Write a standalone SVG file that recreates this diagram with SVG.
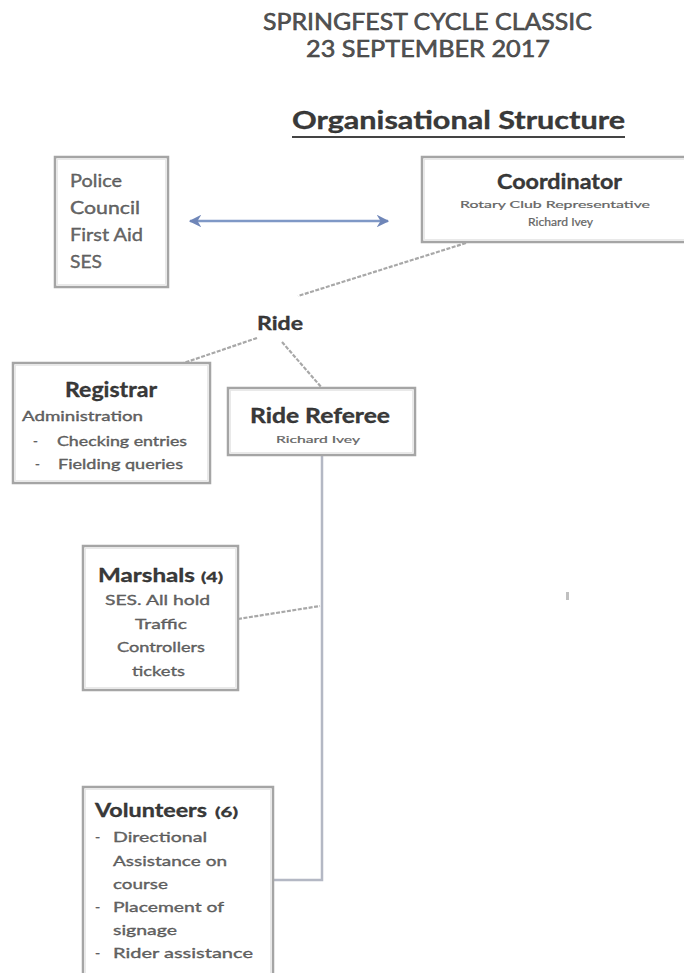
<svg xmlns="http://www.w3.org/2000/svg" width="684" height="973" viewBox="0 0 684 973">
<defs>
<style>
text{font-family:Lato,"Liberation Sans",sans-serif}
.t1{font-size:23px;fill:#555;stroke:#333;stroke-width:0.5}
.h{font-size:20px;font-weight:bold;fill:#3a3a3a;stroke:#222;stroke-width:0.3}
.m{font-size:16px;fill:#6a6a6a;stroke:#444;stroke-width:0.3}
.s{font-size:10px;fill:#6a6a6a;stroke:#555;stroke-width:0.2}
.box{fill:#fff;stroke:#a5a5a5;stroke-width:2.5}
.boxi{fill:none;stroke:#e4e4e4;stroke-width:0.8}
.con{fill:none;stroke:#a8a8a8;stroke-width:2.2;stroke-dasharray:4 1.5}
.ln{fill:none;stroke:#b4b8c4;stroke-width:2.5}
</style>
<marker id="ah" viewBox="0 0 10 10" refX="9" refY="5" markerWidth="5" markerHeight="5" orient="auto-start-reverse">
<path d="M0,0 L10,5 L0,10 L3,5 Z" fill="#6f86b8"/>
</marker>
</defs>
<rect width="684" height="973" fill="#fff"/>
<g id="title">
<text class="t1" x="263" y="30" textLength="329" lengthAdjust="spacingAndGlyphs">SPRINGFEST CYCLE CLASSIC</text>
<text class="t1" x="306" y="57" textLength="244" lengthAdjust="spacingAndGlyphs">23 SEPTEMBER 2017</text>
<text class="h" x="292" y="129" style="font-size:24px" textLength="333" lengthAdjust="spacingAndGlyphs">Organisational Structure</text>
<line x1="292" y1="137" x2="625" y2="137" stroke="#444" stroke-width="2"/>
</g>
<g id="connectors">
<line x1="190" y1="221" x2="388" y2="221" stroke="#7f98c6" stroke-width="2.5" marker-start="url(#ah)" marker-end="url(#ah)"/>
<path class="con" d="M466,243 L298,296"/>
<path class="con" d="M257,338 L175,366"/>
<path class="con" d="M282,342 L322,388"/>
<path class="ln" d="M322,456 L322,880 L273,880"/>
<path class="con" d="M238,619 L320,606"/>
</g>
<g id="agencies">
<rect class="box" x="55" y="157" width="113" height="130"/>
<rect class="boxi" x="57.5" y="159.5" width="108" height="125"/>
<text class="m" x="70" y="187" style="font-size:17px" textLength="52" lengthAdjust="spacingAndGlyphs">Police</text>
<text class="m" x="70" y="214" style="font-size:17px" textLength="70" lengthAdjust="spacingAndGlyphs">Council</text>
<text class="m" x="70" y="241" style="font-size:17px" textLength="73" lengthAdjust="spacingAndGlyphs">First Aid</text>
<text class="m" x="70" y="268" style="font-size:17px" textLength="32" lengthAdjust="spacingAndGlyphs">SES</text>
</g>
<g id="coordinator">
<rect class="box" x="422" y="157" width="266" height="85"/>
<rect class="boxi" x="424.5" y="159.5" width="261" height="80"/>
<text class="h" x="497" y="189" textLength="125" lengthAdjust="spacingAndGlyphs">Coordinator</text>
<text class="s" x="460" y="208" textLength="190" lengthAdjust="spacingAndGlyphs">Rotary Club Representative</text>
<text class="s" x="528" y="226" style="font-size:11px" textLength="65" lengthAdjust="spacingAndGlyphs">Richard Ivey</text>
</g>
<g id="ride">
<text class="h" x="257" y="330" style="font-size:18px" textLength="46" lengthAdjust="spacingAndGlyphs">Ride</text>
</g>
<g id="registrar">
<rect class="box" x="13" y="363" width="197" height="120"/>
<rect class="boxi" x="15.5" y="365.5" width="192" height="115"/>
<text class="h" x="65" y="397" textLength="92" lengthAdjust="spacingAndGlyphs">Registrar</text>
<text class="m" x="22" y="421" style="font-size:13px" textLength="121" lengthAdjust="spacingAndGlyphs">Administration</text>
<text class="m" x="33" y="446" style="font-size:13px">-</text>
<text class="m" x="57" y="446" style="font-size:13px" textLength="130" lengthAdjust="spacingAndGlyphs">Checking entries</text>
<text class="m" x="35" y="469" style="font-size:13px">-</text>
<text class="m" x="58" y="469" style="font-size:13px" textLength="125" lengthAdjust="spacingAndGlyphs">Fielding queries</text>
</g>
<g id="referee">
<rect class="box" x="228" y="388" width="187" height="67"/>
<rect class="boxi" x="230.5" y="390.5" width="182" height="62"/>
<text class="h" x="250" y="423" textLength="140" lengthAdjust="spacingAndGlyphs">Ride Referee</text>
<text class="s" x="276" y="443" textLength="84" lengthAdjust="spacingAndGlyphs">Richard Ivey</text>
</g>
<g id="marshals">
<rect class="box" x="83" y="546" width="155" height="144"/>
<rect class="boxi" x="85.5" y="548.5" width="150" height="139"/>
<text class="h" x="98" y="582" style="font-size:19px" textLength="97" lengthAdjust="spacingAndGlyphs">Marshals</text>
<text class="h" x="201" y="582" style="font-size:13px" textLength="22" lengthAdjust="spacingAndGlyphs">(4)</text>
<text class="m" x="105" y="605" style="font-size:14px" textLength="105" lengthAdjust="spacingAndGlyphs">SES.  All hold</text>
<text class="m" x="135" y="629" style="font-size:14px" textLength="52" lengthAdjust="spacingAndGlyphs">Traffic</text>
<text class="m" x="117" y="652" style="font-size:14px" textLength="88" lengthAdjust="spacingAndGlyphs">Controllers</text>
<text class="m" x="132" y="676" style="font-size:14px" textLength="53" lengthAdjust="spacingAndGlyphs">tickets</text>
</g>
<g id="volunteers">
<rect class="box" x="83" y="787" width="190" height="195"/>
<rect class="boxi" x="85.5" y="789.5" width="185" height="190"/>
<text class="h" x="95" y="817" style="font-size:19px" textLength="112" lengthAdjust="spacingAndGlyphs">Volunteers</text>
<text class="h" x="215" y="817" style="font-size:13px" textLength="23" lengthAdjust="spacingAndGlyphs">(6)</text>
<text class="m" x="95" y="842" style="font-size:14px">-</text>
<text class="m" x="113" y="842" style="font-size:14px" textLength="94" lengthAdjust="spacingAndGlyphs">Directional</text>
<text class="m" x="113" y="866" style="font-size:14px" textLength="114" lengthAdjust="spacingAndGlyphs">Assistance on</text>
<text class="m" x="113" y="889" style="font-size:14px" textLength="55" lengthAdjust="spacingAndGlyphs">course</text>
<text class="m" x="95" y="912" style="font-size:14px">-</text>
<text class="m" x="113" y="912" style="font-size:14px" textLength="111" lengthAdjust="spacingAndGlyphs">Placement of</text>
<text class="m" x="113" y="935" style="font-size:14px" textLength="64" lengthAdjust="spacingAndGlyphs">signage</text>
<text class="m" x="95" y="958" style="font-size:14px">-</text>
<text class="m" x="113" y="958" style="font-size:14px" textLength="140" lengthAdjust="spacingAndGlyphs">Rider assistance</text>
</g>
<rect x="566" y="592" width="3" height="8" fill="#c0c0c0"/>
</svg>
